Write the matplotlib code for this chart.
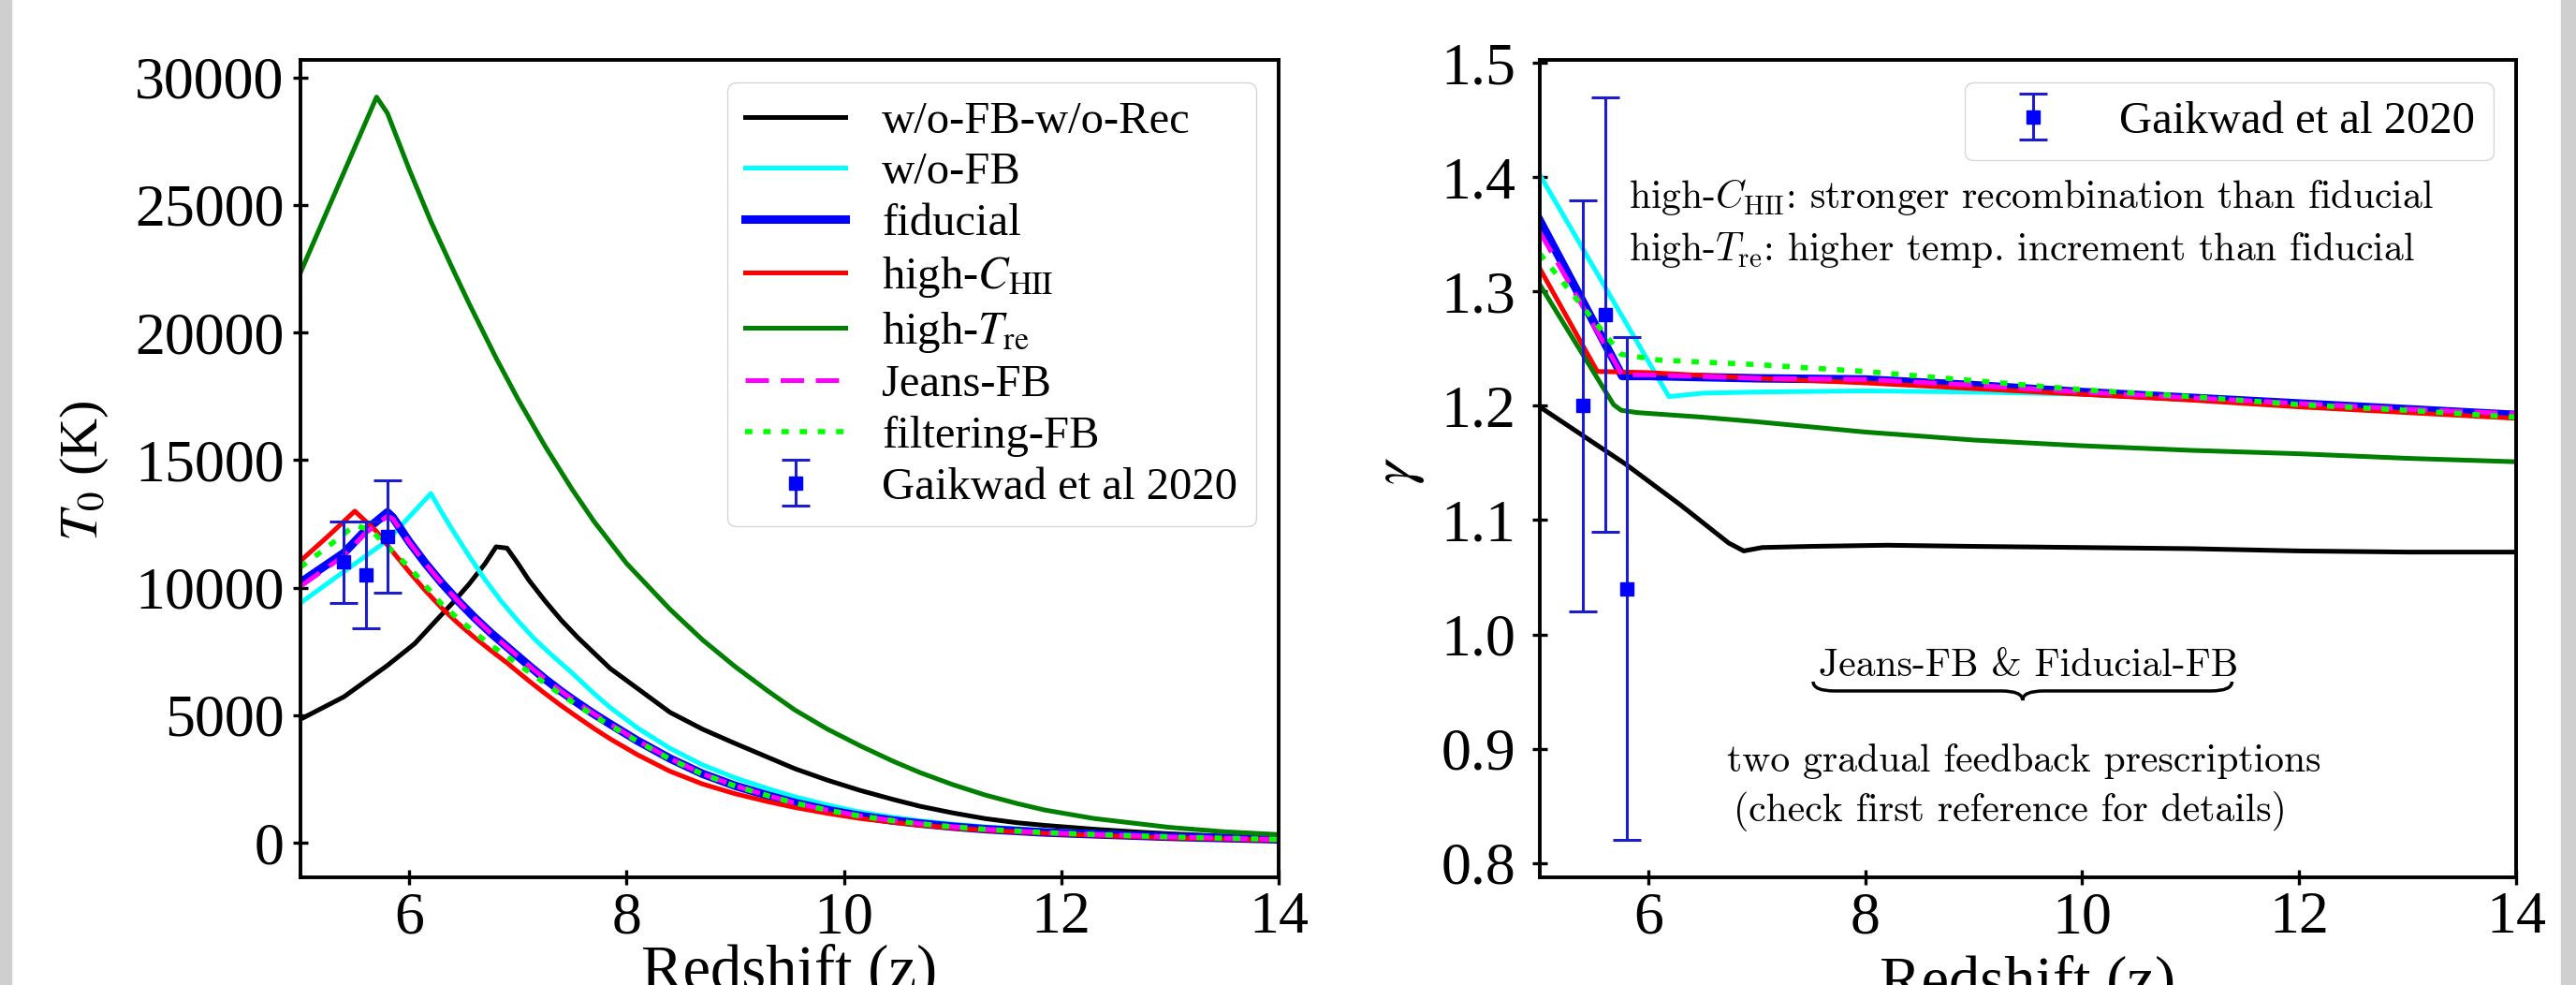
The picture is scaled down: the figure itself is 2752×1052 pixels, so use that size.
import numpy as np
import matplotlib
matplotlib.use('Agg')
import matplotlib.pyplot as plt
from matplotlib.path import Path
from matplotlib.patches import PathPatch, Rectangle
from matplotlib.ticker import MultipleLocator

plt.rcParams['font.family'] = ['Liberation Serif', 'DejaVu Serif']
plt.rcParams['mathtext.fontset'] = 'stix'

# ---------------- T0 vs redshift (left panel) ----------------
z_norec = [5.0, 5.4, 5.8, 6.05, 6.25, 6.4, 6.55, 6.7, 6.8, 6.9, 7.0, 7.1, 7.25, 7.4, 7.55,
           7.7, 7.85, 8.1, 8.4, 8.7, 9.0, 9.3, 9.55, 9.85, 10.15, 10.45, 10.7, 11.0, 11.3,
           11.6, 11.85, 12.3, 12.7, 13.0, 13.5, 14.0]
T_norec = [4840, 5720, 6950, 7800, 8720, 9400, 10130, 10950, 11600, 11550, 10950, 10300,
           9480, 8720, 8050, 7440, 6830, 6050, 5110, 4450, 3890, 3350, 2900, 2450, 2050,
           1700, 1430, 1170, 945, 780, 680, 530, 420, 350, 250, 170]

z_nofb = [5.0, 5.4, 5.8, 6.2, 6.3, 6.4, 6.55, 6.7, 6.85, 7.0, 7.15, 7.3, 7.5, 7.7, 7.85,
          8.1, 8.4, 8.7, 9.0, 9.3, 9.55, 9.85, 10.15, 10.45, 10.7, 11.0, 11.3, 11.85,
          12.3, 13.0, 14.0]
T_nofb = [9400, 10630, 11850, 13690, 12950, 12250, 11250, 10300, 9450, 8700, 8000, 7400,
          6650, 5850, 5300, 4500, 3700, 3050, 2540, 2120, 1800, 1480, 1200, 1000, 860,
          730, 620, 480, 400, 270, 130]

z_fid = [5.0, 5.4, 5.6, 5.8, 5.85, 6.0, 6.15, 6.3, 6.45, 6.6, 6.75, 6.9, 7.1, 7.25, 7.4,
         7.55, 7.7, 7.85, 8.1, 8.4, 8.7, 9.0, 9.3, 9.55, 9.85, 10.15, 10.45, 10.7, 11.0,
         11.3, 11.85, 12.3, 13.0, 14.0]
T_fid = [10200, 11360, 12250, 12950, 12750, 11800, 10950, 10180, 9480, 8830, 8230, 7680,
         6950, 6420, 5930, 5480, 5050, 4650, 4000, 3300, 2700, 2230, 1850, 1560, 1280,
         1050, 870, 750, 630, 530, 400, 330, 230, 130]
T_jeans = [10050, 11250, 12150, 12800, 12700, 11780, 10940, 10170, 9470, 8820, 8220, 7670,
           6950, 6420, 5930, 5480, 5050, 4650, 4000, 3300, 2700, 2230, 1850, 1560, 1280,
           1050, 870, 750, 630, 530, 400, 330, 230, 130]

z_chii = [5.0, 5.25, 5.5, 5.6, 5.7, 5.85, 6.0, 6.15, 6.3, 6.45, 6.6, 6.75, 6.9, 7.1, 7.25,
          7.4, 7.55, 7.7, 7.85, 8.1, 8.4, 8.7, 9.0, 9.3, 9.55, 9.85, 10.15, 10.45, 10.7,
          11.0, 11.3, 11.85, 12.3, 13.0, 14.0]
T_chii = [11050, 12000, 13000, 12600, 12200, 11400, 10620, 9880, 9200, 8600, 8050, 7540,
          7050, 6350, 5850, 5370, 4920, 4480, 4070, 3450, 2800, 2300, 1920, 1610, 1380,
          1150, 950, 800, 690, 580, 490, 370, 290, 190, 100]

z_tre = [5.0, 5.7, 5.8, 6.0, 6.2, 6.4, 6.55, 6.8, 7.0, 7.25, 7.5, 7.7, 8.0, 8.4, 8.7, 9.0,
         9.3, 9.55, 9.85, 10.15, 10.45, 10.7, 11.0, 11.3, 11.6, 11.85, 12.3, 13.0, 13.5,
         14.0]
T_tre = [22350, 29230, 28600, 26400, 24350, 22500, 21150, 19000, 17400, 15550, 13850,
         12600, 10950, 9150, 7950, 6900, 5950, 5200, 4450, 3800, 3200, 2750, 2280, 1870,
         1530, 1280, 950, 600, 430, 320]

z_filt = [5.0, 5.25, 5.5, 5.65, 5.8, 6.0, 6.15, 6.3, 6.45, 6.6, 6.75, 6.9, 7.1, 7.25, 7.4,
          7.55, 7.7, 7.85, 8.1, 8.4, 8.7, 9.0, 9.3, 9.55, 9.85, 10.15, 10.45, 10.7, 11.0,
          11.3, 11.85, 12.3, 13.0, 14.0]
T_filt = [10800, 11600, 12450, 12250, 11600, 10800, 10080, 9350, 8780, 8250, 7750, 7300,
          6700, 6250, 5800, 5380, 4980, 4600, 3980, 3280, 2690, 2220, 1845, 1555, 1275,
          1045, 865, 745, 625, 525, 395, 325, 228, 128]

# Gaikwad et al 2020
z_obs = [5.4, 5.6, 5.8]
T_obs = [11000, 10500, 12000]
T_err = [1600, 2100, 2200]
g_obs = [1.20, 1.28, 1.04]
g_err = [0.18, 0.19, 0.22]

# ---------------- gamma vs redshift (right panel) ----------------
zg_norec = [5.0, 5.79, 6.3, 6.74, 6.88, 7.05, 7.5, 8.2, 9.0, 10.0, 11.0, 12.0, 13.0, 14.0]
g_norec = [1.199, 1.149, 1.113, 1.080, 1.073, 1.076, 1.077, 1.078, 1.077, 1.076, 1.075,
           1.073, 1.072, 1.072]

zg_nofb = [5.0, 6.19, 6.5, 7.0, 8.0, 9.0, 10.0, 11.0, 12.0, 13.0, 14.0]
g_nofb = [1.402, 1.208, 1.211, 1.212, 1.213, 1.212, 1.210, 1.206, 1.200, 1.195, 1.190]

zg_fid = [5.0, 5.76, 6.0, 7.0, 8.0, 9.0, 10.0, 11.0, 12.0, 13.0, 14.0]
g_fid = [1.362, 1.226, 1.226, 1.224, 1.223, 1.218, 1.212, 1.207, 1.202, 1.197, 1.192]
g_jeans = [1.352, 1.227, 1.227, 1.224, 1.223, 1.218, 1.212, 1.207, 1.202, 1.197, 1.193]

zg_chii = [5.0, 5.53, 6.0, 7.0, 8.0, 9.0, 10.0, 11.0, 12.0, 13.0, 14.0]
g_chii = [1.320, 1.230, 1.229, 1.224, 1.220, 1.215, 1.210, 1.205, 1.199, 1.194, 1.189]

zg_tre = [5.0, 5.68, 5.75, 5.9, 6.5, 7.0, 8.0, 9.0, 10.0, 11.0, 12.0, 13.0, 14.0]
g_tre = [1.306, 1.201, 1.196, 1.194, 1.190, 1.186, 1.177, 1.170, 1.165, 1.161, 1.158,
         1.154, 1.151]

zg_filt = [5.0, 5.75, 6.1, 7.0, 8.0, 9.0, 10.0, 11.0, 12.0, 13.0, 14.0]
g_filt = [1.333, 1.245, 1.240, 1.236, 1.230, 1.222, 1.214, 1.208, 1.201, 1.196, 1.190]

xticks = [6, 8, 10, 12, 14]

fig = plt.figure(figsize=(27.52, 10.52), dpi=100)
ax1 = fig.add_axes([321/2752, 115/1052, 1045/2752, 873/1052])
ax2 = fig.add_axes([1645/2752, 115/1052, 1043/2752, 873/1052])

# grey scan strips at the page edges
fig.patches.append(Rectangle((0, 0), 12/2752, 1, transform=fig.transFigure,
                             color='#cfcfcf', zorder=0))
fig.patches.append(Rectangle((1 - 16/2752, 0), 16/2752, 1, transform=fig.transFigure,
                             color='#cfcfcf', zorder=0))

lw = 3.6
for ax, d in [(ax1, (z_norec, T_norec, z_nofb, T_nofb, z_fid, T_fid, T_jeans,
                     z_chii, T_chii, z_tre, T_tre, z_filt, T_filt, T_obs, T_err)),
              (ax2, (zg_norec, g_norec, zg_nofb, g_nofb, zg_fid, g_fid, g_jeans,
                     zg_chii, g_chii, zg_tre, g_tre, zg_filt, g_filt, g_obs, g_err))]:
    lab = (ax is ax1)
    ax.plot(d[0], d[1], color='black', lw=lw, label='w/o-FB-w/o-Rec' if lab else None)
    ax.plot(d[2], d[3], color='cyan', lw=lw, label='w/o-FB' if lab else None)
    ax.plot(d[4], d[5], color='blue', lw=6.5, label='fiducial' if lab else None)
    ax.plot(d[7], d[8], color='red', lw=lw, label=r'high-$C_{\rm HII}$' if lab else None)
    ax.plot(d[9], d[10], color='green', lw=lw, label=r'high-$T_{\rm re}$' if lab else None)
    ax.plot(d[4], d[6], color='magenta', lw=3.6, dashes=(5, 2.5),
            label='Jeans-FB' if lab else None)
    ax.plot(d[11], d[12], color='lime', lw=4, dashes=(1.4, 2.1),
            label='filtering-FB' if lab else None)
    ax.errorbar(z_obs, d[13], yerr=d[14], fmt='s', color='blue', ecolor='#1c1cd0',
                ms=10, capsize=11, elinewidth=2.2, capthick=2.2, label='Gaikwad et al 2020')

    ax.set_xlim(5, 14)
    ax.set_xticks(xticks)
    for sp in ax.spines.values():
        sp.set_linewidth(2.8)
    ax.tick_params(direction='inout', length=11, width=2.4, labelsize=46)
    ax.tick_params(axis='x', pad=5.4)
    ax.legend(loc='upper right', fontsize=35, handlelength=2.2, labelspacing=0.22)

ax1.yaxis.set_major_locator(MultipleLocator(5000))
ax2.yaxis.set_major_locator(MultipleLocator(0.1))
ax1.tick_params(axis='y', pad=7.0)
ax2.tick_params(axis='y', pad=13)

ax1.set_xlabel('Redshift (z)', fontsize=48)
ax2.set_xlabel('Redshift (z)', fontsize=48)
ax1.set_ylabel(r'$T_0$ (K)', fontsize=42)
ax2.set_ylabel(r'$\gamma$', fontsize=46)
ax1.xaxis.set_label_coords(0.5, -0.081)
ax2.xaxis.set_label_coords(0.5, -0.095)
ax1.yaxis.set_label_coords(-0.194, 0.497)
ax2.yaxis.set_label_coords(-0.116, 0.497)

# annotations (LaTeX look)
cm = dict(fontfamily='cmr10', math_fontfamily='cm', fontsize=30, transform=ax2.transAxes)
ax2.text(0.091, 0.832, r'high-$C_{\rm HII}$: stronger recombination than fiducial',
         ha='left', va='center', **cm)
ax2.text(0.091, 0.768, r'high-$T_{\rm re}$: higher temp. increment than fiducial',
         ha='left', va='center', **cm)
ax2.text(0.5005, 0.259, 'Jeans-FB & Fiducial-FB', ha='center', va='center', **cm)
ax2.text(0.4957, 0.142, 'two gradual feedback prescriptions', ha='center', va='center', **cm)
ax2.text(0.482, 0.0813, '(check first reference for details)', ha='center', va='center', **cm)

# curly brace under the label
x0, x1, xc = 0.280, 0.709, 0.4945
yt, ym, yb = 0.2394, 0.228, 0.2165
dx = 0.022
verts = [(x0, yt), (x0, ym), (x0 + dx, ym), (xc - dx, ym), (xc, ym), (xc, yb),
         (xc, ym), (xc + dx, ym), (x1 - dx, ym), (x1, ym), (x1, yt)]
codes = [Path.MOVETO, Path.CURVE3, Path.CURVE3, Path.LINETO, Path.CURVE3, Path.CURVE3,
         Path.CURVE3, Path.CURVE3, Path.LINETO, Path.CURVE3, Path.CURVE3]
ax2.add_patch(PathPatch(Path(verts, codes), transform=ax2.transAxes, fill=False,
                        lw=2.5, color='black', clip_on=False))

plt.savefig('out.png', dpi=100)
